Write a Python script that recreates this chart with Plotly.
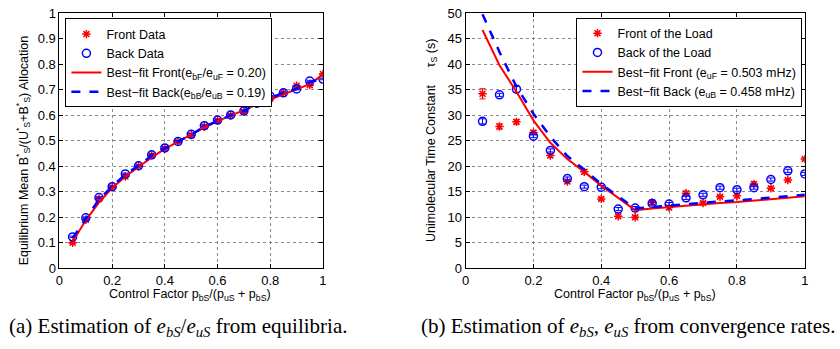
import plotly.graph_objects as go

# ---------------- data ----------------
ctrl = [0.05, 0.10, 0.15, 0.20, 0.25, 0.30, 0.35, 0.40, 0.45, 0.50,
        0.55, 0.60, 0.65, 0.70, 0.75, 0.80, 0.85, 0.90, 0.95, 1.00]

# (a) equilibria
eq_front = [0.100, 0.190, 0.272, 0.318, 0.360, 0.400, 0.443, 0.470, 0.496, 0.522,
            0.556, 0.579, 0.600, 0.614, 0.645, 0.665, 0.688, 0.716, 0.718, 0.762]
eq_back = [0.123, 0.198, 0.277, 0.320, 0.370, 0.402, 0.445, 0.472, 0.497, 0.525,
           0.559, 0.581, 0.601, 0.617, 0.647, 0.674, 0.688, 0.703, 0.734, 0.742]
eq_fit_front = [0.105, 0.188, 0.258, 0.315, 0.360, 0.398, 0.435, 0.468, 0.497, 0.525,
                0.552, 0.577, 0.600, 0.620, 0.642, 0.662, 0.682, 0.705, 0.722, 0.760]
eq_fit_back = [0.118, 0.195, 0.270, 0.320, 0.368, 0.402, 0.442, 0.470, 0.497, 0.524,
               0.555, 0.579, 0.600, 0.617, 0.645, 0.668, 0.688, 0.703, 0.730, 0.742]
eq_err = [0.003] * 20

# (b) convergence time constants (s)
tau_front = [34.2, 27.8, 28.7, 26.6, 22.1, 17.0, 18.9, 13.6, 10.2, 10.0,
             12.9, 11.9, 14.7, 12.8, 14.0, 14.2, 16.5, 15.7, 17.3, 21.4]
tau_front_err = [1.0, 0.5, 0.4, 0.4, 0.4, 0.4, 0.4, 0.3, 0.3, 0.3,
                 0.4, 0.4, 0.4, 0.3, 0.3, 0.4, 0.5, 0.3, 0.3, 0.3]
tau_back = [28.8, 34.0, 35.1, 25.9, 23.1, 17.6, 16.0, 15.9, 11.6, 11.8,
            12.7, 12.6, 13.8, 14.4, 15.8, 15.4, 15.8, 17.4, 19.1, 18.5]
tau_back_err = [0.5, 0.3, 0.6, 0.3, 0.3, 0.3, 0.3, 0.3, 0.3, 0.3,
                0.3, 0.3, 0.3, 0.3, 0.3, 0.3, 0.3, 0.3, 0.3, 0.3]
tau_fit_front = [46.7, 39.8, 34.6, 29.0, 24.6, 21.4, 18.9, 16.2, 13.8, 11.4,
                 11.7, 12.0, 12.2, 12.5, 12.8, 13.0, 13.3, 13.6, 13.8, 14.1]
tau_fit_back = [49.8, 42.4, 35.6, 30.3, 25.8, 22.0, 19.3, 16.5, 14.1, 11.7,
                12.0, 12.3, 12.5, 12.8, 13.1, 13.3, 13.6, 13.9, 14.1, 14.4]

# ---------------- figure ----------------
W, H = 840, 349
RED, BLUE = "#ff0000", "#0000ff"
SANS = "Liberation Sans, Arial, sans-serif"
SERIF = "Liberation Serif, Times New Roman, serif"

fig = go.Figure()

def px_x(p):
    return p / W

def px_y(p):
    return 1 - p / H

# ---- (a)
fig.add_trace(go.Scatter(x=ctrl, y=eq_front, mode="markers", name="Front Data",
                         marker=dict(symbol="asterisk-open", size=7, color=RED,
                                     line=dict(color=RED, width=1.5)),
                         error_y=dict(type="data", array=eq_err, color=RED, thickness=1, width=3),
                         xaxis="x", yaxis="y", legend="legend"))
fig.add_trace(go.Scatter(x=ctrl, y=eq_back, mode="markers", name="Back Data",
                         marker=dict(symbol="circle-open", size=8, color=BLUE,
                                     line=dict(color=BLUE, width=1.5)),
                         error_y=dict(type="data", array=eq_err, color=BLUE, thickness=1, width=3),
                         xaxis="x", yaxis="y", legend="legend"))
fig.add_trace(go.Scatter(x=ctrl, y=eq_fit_front, mode="lines",
                         name="Best\u2212fit Front(e<sub>bF</sub>/e<sub>uF</sub> = 0.20)",
                         line=dict(color=RED, width=2),
                         xaxis="x", yaxis="y", legend="legend"))
fig.add_trace(go.Scatter(x=ctrl, y=eq_fit_back, mode="lines",
                         name="Best\u2212fit Back(e<sub>bB</sub>/e<sub>uB</sub> = 0.19)",
                         line=dict(color=BLUE, width=2.5, dash="dash"),
                         xaxis="x", yaxis="y", legend="legend"))

# ---- (b)
fig.add_trace(go.Scatter(x=ctrl, y=tau_front, mode="markers", name="Front of the Load",
                         marker=dict(symbol="asterisk-open", size=7, color=RED,
                                     line=dict(color=RED, width=1.5)),
                         error_y=dict(type="data", array=tau_front_err, color=RED, thickness=1, width=3),
                         xaxis="x2", yaxis="y2", legend="legend2"))
fig.add_trace(go.Scatter(x=ctrl, y=tau_back, mode="markers", name="Back of the Load",
                         marker=dict(symbol="circle-open", size=8, color=BLUE,
                                     line=dict(color=BLUE, width=1.5)),
                         error_y=dict(type="data", array=tau_back_err, color=BLUE, thickness=1, width=3),
                         xaxis="x2", yaxis="y2", legend="legend2"))
fig.add_trace(go.Scatter(x=ctrl, y=tau_fit_front, mode="lines",
                         name="Best\u2212fit Front (e<sub>uF</sub> = 0.503 mHz)",
                         line=dict(color=RED, width=2),
                         xaxis="x2", yaxis="y2", legend="legend2"))
fig.add_trace(go.Scatter(x=ctrl, y=tau_fit_back, mode="lines",
                         name="Best\u2212fit Back (e<sub>uB</sub> = 0.458 mHz)",
                         line=dict(color=BLUE, width=2.5, dash="dash"),
                         xaxis="x2", yaxis="y2", legend="legend2"))

ydom = [px_y(273), px_y(6.5)]
axis_common = dict(showline=True, linecolor="black", linewidth=1, mirror="ticks",
                   ticks="inside", ticklen=4, tickcolor="black",
                   showgrid=True, gridcolor="#8a8a8a", griddash="dot", gridwidth=1,
                   zeroline=False, ticklabeloverflow="allow",
                   tickfont=dict(family=SANS, size=13, color="black"))

legend_common = dict(bgcolor="white", bordercolor="black", borderwidth=1,
                     font=dict(family=SANS, size=12.5, color="black"),
                     xanchor="left", yanchor="top", itemwidth=30,
                     tracegroupgap=0)

fig.update_layout(
    width=W, height=H,
    margin=dict(l=0, r=0, t=0, b=0),
    paper_bgcolor="white", plot_bgcolor="white",
    xaxis=dict(domain=[px_x(56), px_x(322)], range=[0, 1], dtick=0.2, anchor="y", **axis_common),
    yaxis=dict(domain=ydom, range=[0, 1], dtick=0.1, anchor="x", **axis_common),
    xaxis2=dict(domain=[px_x(466), px_x(808.5)], range=[0, 1], dtick=0.2, anchor="y2", **axis_common),
    yaxis2=dict(domain=ydom, range=[0, 50], dtick=5, anchor="x2", **axis_common),
    legend=dict(x=px_x(62), y=px_y(12), **legend_common),
    legend2=dict(x=px_x(578), y=px_y(11), **legend_common),
    showlegend=True,
)

ann_font = dict(family=SANS, size=12.5, color="black")
annotations = [
    dict(text="Control Factor p<sub>bS</sub>/(p<sub>uS</sub> + p<sub>bS</sub>)",
         x=px_x(188), y=px_y(292), xref="paper", yref="paper", borderpad=0,
         xanchor="center", yanchor="top", showarrow=False, font=ann_font),
    dict(text="Control Factor p<sub>bS</sub>/(p<sub>uS</sub> + p<sub>bS</sub>)",
         x=px_x(637), y=px_y(292), xref="paper", yref="paper", borderpad=0,
         xanchor="center", yanchor="top", showarrow=False, font=ann_font),
    dict(text="Equilibrium Mean B<sup>*</sup><sub>S</sub>/(U<sup>*</sup><sub>S</sub>+B<sup>*</sup><sub>S</sub>) Allocation",
         x=px_x(19), y=px_y(150), xref="paper", yref="paper", textangle=-90,
         xanchor="center", yanchor="middle", showarrow=False, font=ann_font),
    dict(text="Unimolecular Time Constant\u00a0\u00a0\u00a0\u00a0\u00a0\u03c4<sub>S</sub> (s)",
         x=px_x(432), y=px_y(139), xref="paper", yref="paper", textangle=-90,
         xanchor="center", yanchor="middle", showarrow=False, font=ann_font),
    dict(text="(a) Estimation of <i>e<sub>bS</sub></i>/<i>e<sub>uS</sub></i> from equilibria.",
         x=px_x(3), y=px_y(334), xref="paper", yref="paper",
         xanchor="left", yanchor="middle", showarrow=False,
         font=dict(family=SERIF, size=21, color="black")),
    dict(text="(b) Estimation of <i>e<sub>bS</sub></i>, <i>e<sub>uS</sub></i> from convergence rates.",
         x=px_x(419), y=px_y(334), xref="paper", yref="paper",
         xanchor="left", yanchor="middle", showarrow=False,
         font=dict(family=SERIF, size=21, color="black")),
]
fig.update_layout(annotations=annotations)

fig.write_html("out.html")
